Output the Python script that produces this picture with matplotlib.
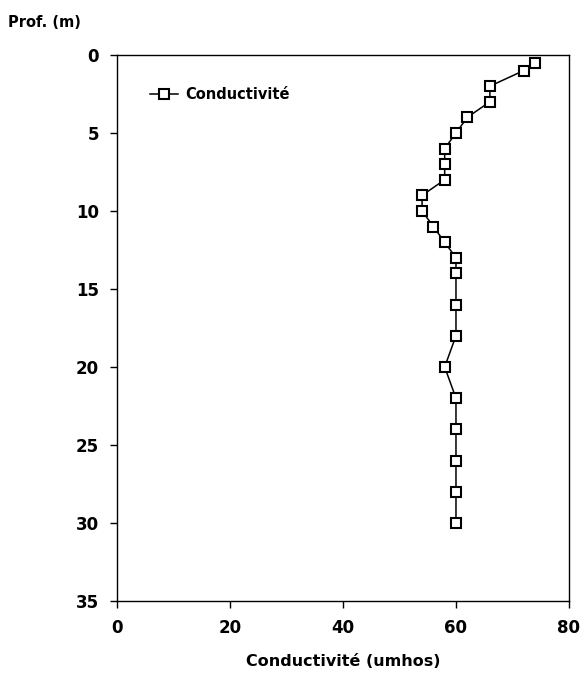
import matplotlib
matplotlib.use("Agg")
import matplotlib.pyplot as plt

# profondeur (m) et conductivite (umhos)
prof = [0.5, 1, 2, 3, 4, 5, 6, 7, 8, 9, 10, 11, 12, 13, 14, 16, 18, 20, 22, 24, 26, 28, 30]
cond = [74, 72, 66, 66, 62, 60, 58, 58, 58, 54, 54, 56, 58, 60, 60, 60, 60, 58, 60, 60, 60, 60, 60]

xticks = [0, 20, 40, 60, 80]
yticks = [0, 5, 10, 15, 20, 25, 30, 35]

plt.rcParams['font.family'] = ['DejaVu Sans']
plt.rcParams['font.weight'] = 'bold'

fig = plt.figure(figsize=(5.85, 6.77), dpi=100)
ax = fig.add_axes([0.2, 0.1123, 0.7726, 0.8065])

ax.plot(cond, prof, color='black', lw=1.1, marker='s', markersize=7.5,
        markerfacecolor='white', markeredgecolor='black', markeredgewidth=1.5,
        label='Conductivité')

ax.set_xlim(0, 80)
ax.set_ylim(35, 0)
ax.set_xticks(xticks)
ax.set_yticks(yticks)
ax.tick_params(axis='both', labelsize=12, direction='out', length=5, width=1, pad=8)
for lab in ax.get_xticklabels() + ax.get_yticklabels():
    lab.set_fontweight('bold')
for s in ax.spines.values():
    s.set_linewidth(1.0)

ax.set_xlabel('Conductivité (umhos)', fontsize=11.5, fontweight='bold', labelpad=12)
fig.text(0.013, 0.967, 'Prof. (m)', fontsize=10.5, fontweight='bold', ha='left', va='center')

leg = ax.legend(loc='upper left', bbox_to_anchor=(0.045, 0.965), frameon=False,
                handlelength=1.9, handletextpad=0.5,
                prop={'weight': 'bold', 'size': 10.5})
for h in leg.legend_handles:
    h.set_markersize(7)

fig.savefig('out.png', dpi=100)
